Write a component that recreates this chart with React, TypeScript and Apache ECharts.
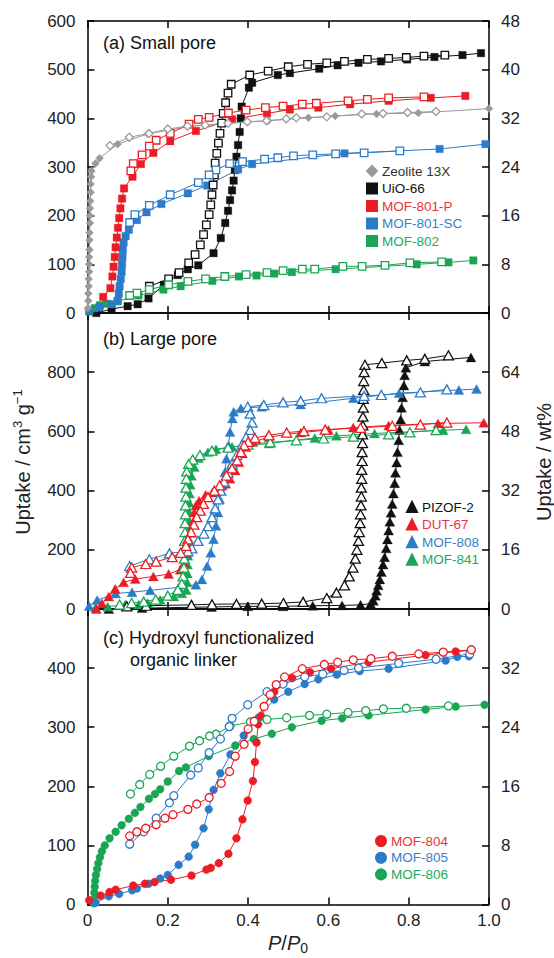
import React, { useEffect, useRef } from "react";
import * as echarts from "echarts";

type P = [number, number];

// ---------- (a) Small pore ----------
const zeolite13XAds: P[] = [[0.001,10],[0.002,25],[0.002,40],[0.003,55],[0.003,70],[0.004,85],[0.004,100],[0.004,115],[0.005,130],[0.005,150],[0.005,165],[0.006,185],[0.006,200],[0.006,215],[0.007,230],[0.008,248],[0.008,265],[0.009,280],[0.01,292],[0.02,307],[0.03,318],[0.075,347],[0.15,368],[0.25,383],[0.35,390],[0.45,395],[0.55,401],[0.617,405],[0.72,409],[0.824,411],[1.0,420]];
const zeolite13XDes: P[] = [[0.868,414],[0.797,412],[0.736,410],[0.683,409],[0.596,403],[0.52,401],[0.495,399],[0.446,395],[0.398,393],[0.35,390],[0.293,386],[0.249,384],[0.2,378],[0.153,369],[0.104,361],[0.056,344]];
const uio66Ads: P[] = [[0.022,0],[0.06,8],[0.1,14],[0.125,18],[0.152,30],[0.19,58],[0.225,78],[0.25,90],[0.276,98],[0.314,123],[0.332,154],[0.343,185],[0.35,210],[0.355,232],[0.36,252],[0.364,272],[0.367,294],[0.371,321],[0.375,345],[0.379,372],[0.382,400],[0.384,424],[0.402,463],[0.41,473],[0.474,489],[0.504,493],[0.577,502],[0.623,509],[0.675,514],[0.731,517],[0.796,521],[0.864,526],[0.934,530],[0.98,534]];
const uio66Des: P[] = [[0.89,530],[0.838,528],[0.794,525],[0.75,523],[0.697,521],[0.64,517],[0.596,514],[0.548,511],[0.5,506],[0.45,497],[0.404,489],[0.358,470],[0.35,452],[0.344,432],[0.338,410],[0.334,390],[0.33,369],[0.326,349],[0.322,328],[0.318,308],[0.316,284],[0.313,263],[0.31,243],[0.307,222],[0.303,202],[0.296,181],[0.289,161],[0.281,140],[0.268,120],[0.252,103],[0.228,83],[0.202,70],[0.154,55]];
const mof801PAds: P[] = [[0.039,33],[0.057,51],[0.062,75],[0.065,95],[0.068,115],[0.07,135],[0.073,155],[0.076,175],[0.079,195],[0.082,215],[0.086,235],[0.091,256],[0.112,280],[0.133,306],[0.164,329],[0.206,353],[0.27,374],[0.36,398],[0.447,410],[0.504,418],[0.575,422],[0.654,429],[0.75,436],[0.855,442],[0.941,446]];
const mof801PDes: P[] = [[0.838,444],[0.75,442],[0.697,439],[0.649,436],[0.57,431],[0.535,429],[0.487,425],[0.443,422],[0.395,417],[0.351,411],[0.303,402],[0.276,398],[0.253,388],[0.206,369],[0.171,355],[0.154,343],[0.136,325],[0.114,307],[0.108,292]];
const mof801SCAds: P[] = [[0.005,5],[0.03,12],[0.06,18],[0.075,25],[0.078,40],[0.08,55],[0.083,70],[0.085,85],[0.086,100],[0.087,115],[0.088,130],[0.09,145],[0.095,158],[0.103,171],[0.123,191],[0.147,207],[0.184,224],[0.25,246],[0.298,262],[0.375,295],[0.41,306],[0.64,328],[0.877,337],[0.991,347]];
const mof801SCDes: P[] = [[0.778,333],[0.689,329],[0.618,327],[0.561,325],[0.513,323],[0.474,319],[0.441,316],[0.386,311],[0.354,307],[0.32,294],[0.303,284],[0.276,268],[0.206,243],[0.154,221],[0.118,202],[0.105,186]];
const mof802Ads: P[] = [[0.004,3],[0.018,10],[0.031,16],[0.048,19],[0.075,24],[0.127,36],[0.189,48],[0.232,55],[0.311,66],[0.377,75],[0.421,77],[0.465,81],[0.509,84],[0.618,90],[0.82,100],[0.899,104],[0.961,108]];
const mof802Des: P[] = [[0.882,105],[0.803,103],[0.741,98],[0.684,96],[0.636,96],[0.566,90],[0.535,90],[0.487,87],[0.447,83],[0.395,79],[0.342,75],[0.294,70],[0.25,65],[0.202,58],[0.154,48],[0.123,41],[0.105,36]];

// ---------- (b) Large pore ----------
const pizof2Ads: P[] = [[0.053,0],[0.136,3],[0.309,7],[0.399,9],[0.487,9],[0.561,11],[0.634,12],[0.68,14],[0.705,18],[0.712,28],[0.717,45],[0.72,62],[0.724,80],[0.728,100],[0.732,125],[0.736,150],[0.74,175],[0.744,205],[0.747,235],[0.75,265],[0.753,295],[0.756,325],[0.759,355],[0.762,390],[0.765,425],[0.767,460],[0.77,495],[0.772,530],[0.775,570],[0.777,605],[0.78,640],[0.782,680],[0.785,715],[0.788,755],[0.79,790],[0.793,815],[0.84,836],[0.955,850]];
const pizof2Des: P[] = [[0.899,857],[0.84,845],[0.795,840],[0.733,831],[0.691,825],[0.689,800],[0.688,770],[0.688,740],[0.687,710],[0.687,680],[0.686,650],[0.686,620],[0.685,590],[0.685,560],[0.684,530],[0.684,500],[0.683,470],[0.683,440],[0.682,410],[0.682,380],[0.681,350],[0.68,320],[0.679,290],[0.677,260],[0.675,230],[0.671,200],[0.667,170],[0.661,140],[0.652,110],[0.64,80],[0.62,55],[0.596,37],[0.537,24],[0.488,20],[0.434,18],[0.371,17],[0.31,16],[0.259,14],[0.146,11],[0.098,9]];
const dut67Ads: P[] = [[0.022,0],[0.036,19],[0.053,42],[0.069,68],[0.09,90],[0.119,101],[0.164,110],[0.202,118],[0.231,133],[0.241,156],[0.248,190],[0.253,224],[0.257,258],[0.262,292],[0.266,326],[0.27,350],[0.278,366],[0.294,385],[0.311,394],[0.329,406],[0.344,423],[0.355,440],[0.368,468],[0.377,496],[0.386,525],[0.395,547],[0.412,564],[0.452,581],[0.531,596],[0.6,605],[0.662,613],[0.75,620],[0.873,627],[0.987,629]];
const dut67Des: P[] = [[0.895,630],[0.829,623],[0.759,619],[0.68,612],[0.592,606],[0.539,601],[0.496,596],[0.452,587],[0.417,578],[0.4,565],[0.39,553],[0.382,530],[0.373,502],[0.36,475],[0.346,451],[0.329,418],[0.316,400],[0.3,378],[0.289,355],[0.281,332],[0.272,310],[0.265,285],[0.258,260],[0.25,235],[0.245,213],[0.232,190],[0.211,175],[0.171,160],[0.145,152],[0.11,140],[0.107,122]];
const mof808Ads: P[] = [[0.004,10],[0.024,30],[0.07,52],[0.111,57],[0.156,63],[0.227,73],[0.27,82],[0.285,100],[0.298,145],[0.307,190],[0.314,236],[0.32,281],[0.325,326],[0.329,372],[0.336,417],[0.342,462],[0.346,508],[0.351,553],[0.355,598],[0.361,644],[0.364,666],[0.382,678],[0.434,683],[0.531,691],[0.662,712],[0.776,729],[0.925,740],[0.969,743]];
const mof808Des: P[] = [[0.895,742],[0.829,732],[0.732,723],[0.689,720],[0.583,712],[0.531,703],[0.487,698],[0.439,689],[0.399,683],[0.405,660],[0.41,630],[0.405,605],[0.395,580],[0.385,555],[0.372,520],[0.36,490],[0.35,460],[0.34,430],[0.332,400],[0.325,370],[0.318,340],[0.31,310],[0.3,280],[0.29,255],[0.275,230],[0.26,205],[0.25,195],[0.204,188],[0.154,168],[0.105,145]];
const mof841Ads: P[] = [[0.02,5],[0.05,8],[0.094,15],[0.128,15],[0.15,20],[0.181,31],[0.215,42],[0.235,53],[0.246,64],[0.248,90],[0.249,120],[0.249,150],[0.25,180],[0.25,210],[0.251,240],[0.251,270],[0.252,300],[0.252,330],[0.253,360],[0.254,390],[0.256,420],[0.259,450],[0.266,480],[0.277,510],[0.3,530],[0.32,540],[0.36,548],[0.452,559],[0.566,578],[0.62,585],[0.715,593],[0.886,604],[0.943,607]];
const mof841Des: P[] = [[0.868,604],[0.803,597],[0.75,590],[0.662,582],[0.588,576],[0.52,570],[0.455,563],[0.4,555],[0.35,545],[0.31,535],[0.28,520],[0.262,505],[0.252,490],[0.247,465],[0.246,440],[0.245,410],[0.245,380],[0.244,350],[0.244,320],[0.243,290],[0.243,260],[0.242,230],[0.242,200],[0.241,170],[0.24,140],[0.238,110],[0.235,85],[0.225,65],[0.2,45],[0.17,32],[0.14,25],[0.11,20],[0.08,15]];

// ---------- (c) Hydroxyl functionalized organic linker ----------
const mof804Ads: P[] = [[0.004,7],[0.033,15],[0.055,21],[0.07,25],[0.114,32],[0.143,35],[0.167,38],[0.208,42],[0.259,49],[0.296,59],[0.307,62],[0.327,70],[0.351,86],[0.371,112],[0.386,144],[0.399,176],[0.412,209],[0.417,241],[0.421,274],[0.425,305],[0.432,319],[0.439,336],[0.465,360],[0.51,383],[0.554,393],[0.607,399],[0.7,410],[0.842,422],[0.917,428],[0.956,430]];
const mof804Des: P[] = [[0.956,431],[0.886,427],[0.825,424],[0.759,420],[0.706,416],[0.662,414],[0.623,410],[0.59,406],[0.535,399],[0.491,385],[0.47,372],[0.455,355],[0.44,335],[0.415,310],[0.4,297],[0.39,271],[0.368,251],[0.354,225],[0.333,205],[0.303,181],[0.272,170],[0.25,161],[0.213,152],[0.193,146],[0.171,135],[0.145,129],[0.123,123],[0.105,116]];
const mof805Ads: P[] = [[0.02,3],[0.053,14],[0.079,18],[0.111,24],[0.123,27],[0.152,35],[0.181,44],[0.2,50],[0.227,67],[0.252,81],[0.268,101],[0.289,129],[0.302,161],[0.314,194],[0.331,222],[0.356,254],[0.389,286],[0.426,316],[0.465,347],[0.5,360],[0.541,373],[0.575,381],[0.621,389],[0.678,395],[0.75,399],[0.892,413],[0.921,419],[0.95,420]];
const mof805Des: P[] = [[0.952,424],[0.868,415],[0.775,408],[0.675,400],[0.639,396],[0.586,390],[0.541,385],[0.487,373],[0.447,360],[0.399,338],[0.36,315],[0.353,301],[0.331,280],[0.303,257],[0.276,231],[0.257,219],[0.215,184],[0.204,172],[0.171,146],[0.14,123],[0.105,102]];
const mof806Ads: P[] = [[0.015,2],[0.016,10],[0.017,20],[0.018,30],[0.019,40],[0.021,50],[0.024,60],[0.027,70],[0.031,80],[0.036,90],[0.043,100],[0.055,112],[0.07,123],[0.085,134],[0.103,145],[0.118,155],[0.132,165],[0.153,179],[0.168,187],[0.181,195],[0.2,208],[0.228,226],[0.245,232],[0.302,251],[0.368,269],[0.414,280],[0.459,289],[0.509,300],[0.583,311],[0.634,315],[0.7,320],[0.842,330],[0.917,335],[0.989,338]];
const mof806Des: P[] = [[0.899,336],[0.794,332],[0.737,331],[0.693,328],[0.649,325],[0.596,322],[0.553,320],[0.496,316],[0.447,313],[0.406,309],[0.355,302],[0.32,288],[0.304,285],[0.279,277],[0.254,268],[0.215,251],[0.182,234],[0.155,220],[0.13,203],[0.107,187]];

const xTicks = [0, 0.2, 0.4, 0.6, 0.8, 1.0];
const leftMax = [600, 1000, 500];
const leftStep = [100, 200, 100];
const rightMax = [48, 80, 40];
const rightStep = [8, 16, 8];

const FONT = "'Liberation Sans', Arial, Helvetica, sans-serif";
const BLACK = "#111111";
const RED = "#ec1c24";
const BLUE = "#2b7bc9";
const GREEN = "#19a553";
const GRAY = "#9a9a9a";

function mk(name: string, data: P[], g: number, color: string, symbol: string, size: any, open: boolean) {
  return {
    type: "line",
    name,
    data,
    xAxisIndex: g * 2,
    yAxisIndex: g * 2,
    symbol,
    symbolSize: size,
    showSymbol: true,
    clip: false,
    lineStyle: { color, width: 1 },
    itemStyle: { color: open ? "#ffffff" : color, borderColor: color, borderWidth: open ? 1.3 : 0.3 },
    emphasis: { disabled: true },
    z: open ? 3 : 2,
  };
}

export default function App() {
  const ref = useRef<HTMLDivElement>(null);
  useEffect(() => {
    const chart = echarts.init(ref.current!, null, { renderer: "svg" });
    const grids = [
      { left: 87.5, width: 401.5, top: 21, height: 292 },
      { left: 87.5, width: 401.5, top: 313, height: 296 },
      { left: 87.5, width: 401.5, top: 609, height: 295.5 },
    ];
    const axisLine = { show: true, onZero: false, lineStyle: { color: "#000", width: 1.5 } };
    const axisTick = { show: true, inside: true, length: 7, lineStyle: { color: "#000", width: 1.5 } };
    const lbl = { fontSize: 17, color: "#222", fontFamily: FONT };
    const xAxis: any[] = [];
    const yAxis: any[] = [];
    for (let g = 0; g < 3; g++) {
      xAxis.push({
        type: "value", gridIndex: g, position: "bottom", min: xTicks[0], max: xTicks[xTicks.length - 1], interval: 0.2,
        axisLine, axisTick, splitLine: { show: false },
        axisLabel: { show: g === 2, margin: 7, ...lbl, formatter: (v: number) => (v === 0 ? "0" : v.toFixed(1)) },
      });
      xAxis.push({
        type: "value", gridIndex: g, position: "top", min: 0, max: 1, interval: 0.2,
        axisLine, axisTick, splitLine: { show: false }, axisLabel: { show: false },
      });
    }
    for (let g = 0; g < 3; g++) {
      yAxis.push({
        type: "value", gridIndex: g, position: "left", min: 0, max: leftMax[g], interval: leftStep[g],
        axisLine, axisTick, splitLine: { show: false },
        axisLabel: { margin: 12, ...lbl, showMaxLabel: g === 0 },
      });
      yAxis.push({
        type: "value", gridIndex: g, position: "right", min: 0, max: rightMax[g], interval: rightStep[g],
        axisLine, axisTick, splitLine: { show: false },
        axisLabel: { margin: 12, ...lbl, showMaxLabel: g === 0 },
      });
    }
    const SQ = 7.5;
    const TR = [10, 9];
    const CI = 8;
    const DI = 8;
    const series = [
      mk("UiO-66", uio66Ads, 0, BLACK, "rect", SQ, false),
      mk("UiO-66 des", uio66Des, 0, BLACK, "rect", SQ, true),
      mk("MOF-802", mof802Ads, 0, GREEN, "rect", SQ, false),
      mk("MOF-802 des", mof802Des, 0, GREEN, "rect", SQ, true),
      mk("MOF-801-SC", mof801SCAds, 0, BLUE, "rect", SQ, false),
      mk("MOF-801-SC des", mof801SCDes, 0, BLUE, "rect", SQ, true),
      mk("MOF-801-P", mof801PAds, 0, RED, "rect", SQ, false),
      mk("MOF-801-P des", mof801PDes, 0, RED, "rect", SQ, true),
      mk("Zeolite 13X", zeolite13XAds, 0, GRAY, "diamond", DI, false),
      mk("Zeolite 13X des", zeolite13XDes, 0, GRAY, "diamond", DI, true),

      mk("PIZOF-2", pizof2Ads, 1, BLACK, "triangle", TR, false),
      mk("PIZOF-2 des", pizof2Des, 1, BLACK, "triangle", TR, true),
      mk("MOF-841", mof841Ads, 1, GREEN, "triangle", TR, false),
      mk("MOF-841 des", mof841Des, 1, GREEN, "triangle", TR, true),
      mk("MOF-808", mof808Ads, 1, BLUE, "triangle", TR, false),
      mk("MOF-808 des", mof808Des, 1, BLUE, "triangle", TR, true),
      mk("DUT-67", dut67Ads, 1, RED, "triangle", TR, false),
      mk("DUT-67 des", dut67Des, 1, RED, "triangle", TR, true),

      mk("MOF-806", mof806Ads, 2, GREEN, "circle", CI, false),
      mk("MOF-806 des", mof806Des, 2, GREEN, "circle", CI, true),
      mk("MOF-805", mof805Ads, 2, BLUE, "circle", CI, false),
      mk("MOF-805 des", mof805Des, 2, BLUE, "circle", CI, true),
      mk("MOF-804", mof804Ads, 2, RED, "circle", CI, false),
      mk("MOF-804 des", mof804Des, 2, RED, "circle", CI, true),
    ];
    const legBase = {
      orient: "vertical", itemWidth: 10, itemHeight: 10, selectedMode: false, padding: 0,
      textStyle: { fontSize: 13.5, fontFamily: FONT, lineHeight: 14 },
    };
    const legend = [
      {
        ...legBase, left: 366, top: 164, itemGap: 3.5,
        data: [
          { name: "Zeolite 13X", icon: "diamond", textStyle: { color: "#333" } },
          { name: "UiO-66", icon: "rect", textStyle: { color: "#111" } },
          { name: "MOF-801-P", icon: "rect", textStyle: { color: "#e8343b" } },
          { name: "MOF-801-SC", icon: "rect", textStyle: { color: "#3a80c6" } },
          { name: "MOF-802", icon: "rect", textStyle: { color: "#25a85c" } },
        ],
      },
      {
        ...legBase, left: 406, top: 500, itemGap: 3.6,
        data: [
          { name: "PIZOF-2", icon: "triangle", textStyle: { color: "#111" } },
          { name: "DUT-67", icon: "triangle", textStyle: { color: "#e8343b" } },
          { name: "MOF-808", icon: "triangle", textStyle: { color: "#3a80c6" } },
          { name: "MOF-841", icon: "triangle", textStyle: { color: "#25a85c" } },
        ],
      },
      {
        ...legBase, left: 375, top: 834, itemGap: 2.7,
        data: [
          { name: "MOF-804", icon: "circle", textStyle: { color: "#e8343b" } },
          { name: "MOF-805", icon: "circle", textStyle: { color: "#3a80c6" } },
          { name: "MOF-806", icon: "circle", textStyle: { color: "#25a85c" } },
        ],
      },
    ];
    const titleStyle = { fontSize: 18, fontFamily: FONT, fill: "#111", verticalAlign: "middle", align: "left" };
    const graphic = [
      { type: "text", x: 103, y: 43, style: { ...titleStyle, text: "(a) Small pore" } },
      { type: "text", x: 103, y: 339, style: { ...titleStyle, text: "(b) Large pore" } },
      { type: "text", x: 103, y: 638, style: { ...titleStyle, text: "(c) Hydroxyl functionalized" } },
      { type: "text", x: 130, y: 660, style: { ...titleStyle, text: "organic linker" } },
      {
        type: "text", x: 23, y: 462, rotation: Math.PI / 2,
        style: {
          text: "{a|Uptake / cm}{s|3}{a| g}{s|\u22121}", align: "center", verticalAlign: "middle", fill: "#222",
          rich: {
            a: { fontSize: 20, fontFamily: FONT, lineHeight: 24, verticalAlign: "middle", fill: "#222" },
            s: { fontSize: 13, fontFamily: FONT, lineHeight: 14, verticalAlign: "top", fill: "#222" },
          },
        },
      },
      {
        type: "text", x: 544, y: 462, rotation: Math.PI / 2,
        style: { text: "Uptake / wt%", fontSize: 20, fontFamily: FONT, fill: "#222", align: "center", verticalAlign: "middle" },
      },
      {
        type: "text", x: 288, y: 943,
        style: {
          text: "{i|P}{n|/}{i|P}{b|0}", align: "center", verticalAlign: "middle", fill: "#222",
          rich: {
            i: { fontSize: 20, fontStyle: "italic", fontFamily: FONT, lineHeight: 24, verticalAlign: "middle", fill: "#222" },
            n: { fontSize: 20, fontFamily: FONT, lineHeight: 24, verticalAlign: "middle", fill: "#222" },
            b: { fontSize: 14, fontFamily: FONT, lineHeight: 14, verticalAlign: "bottom", fill: "#222" },
          },
        },
      },
    ];
    chart.setOption({
      animation: false,
      backgroundColor: "#ffffff",
      grid: grids,
      xAxis,
      yAxis,
      legend,
      graphic,
      series,
    });
    return () => chart.dispose();
  }, []);
  return <div ref={ref} style={{ position: "absolute", left: 0, top: 0, width: 554, height: 958, background: "#fff" }} />;
}
